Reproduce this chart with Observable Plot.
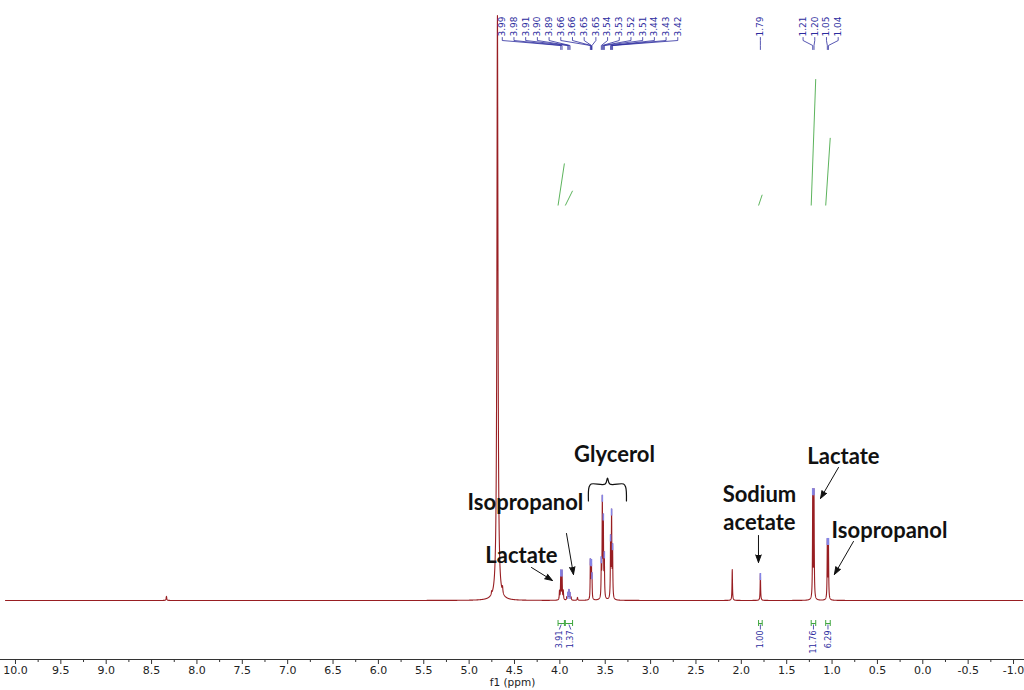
<!DOCTYPE html>
<html>
<head>
<meta charset="utf-8">
<script src="https://cdn.jsdelivr.net/npm/d3@7"></script>
<script src="https://cdn.jsdelivr.net/npm/@observablehq/plot@0.6"></script>
<style>
  body { margin: 0; background: #fff; }
  #chart svg { display: block; }
</style>
</head>
<body>
<div id="chart"></div>
<script>
// ---- 1H NMR spectrum: resonance lines (chemical shift in ppm, height in a.u. with water = 1000, half-width in ppm)
const lineShift  = [8.336, 4.752, 4.688, 4.632,
                    4.004, 3.990, 3.976, 3.962,
                    3.924, 3.912, 3.900, 3.888, 3.876, 3.806,
                    3.664, 3.656, 3.652, 3.646,
                    3.543, 3.532, 3.521, 3.510,
                    3.441, 3.430, 3.419,
                    2.100, 1.790,
                    1.213, 1.199, 1.052, 1.040];
const lineHeight = [7, 5, 1000, 10,
                    15, 49, 49, 15,
                    5, 12, 17, 12, 5, 5,
                    64, 48, 48, 36,
                    60, 165, 130, 70,
                    100, 143, 85,
                    53, 46,
                    183, 183, 100, 100];
const lineWidth  = [0.004, 0.003, 0.007, 0.004,
                    0.003, 0.003, 0.003, 0.003,
                    0.003, 0.003, 0.003, 0.003, 0.003, 0.004,
                    0.0025, 0.0025, 0.0025, 0.0025,
                    0.003, 0.003, 0.003, 0.003,
                    0.003, 0.003, 0.003,
                    0.003, 0.003,
                    0.003, 0.003, 0.003, 0.003];
// lines carrying a chemical-shift label above the spectrum
const linePicked = [false, false, false, false,
                    false, true, true, false,
                    false, true, true, true, false, false,
                    true, true, true, true,
                    true, true, true, true,
                    true, true, true,
                    false, true,
                    true, true, true, true];

// ---- integrated regions (ppm limits) and their integral values
const integralFrom  = [4.02, 3.94, 1.81, 1.23, 1.07];
const integralTo    = [3.95, 3.86, 1.77, 1.18, 1.02];
const integralValue = [3.91, 1.37, 1.00, 11.76, 6.29];

// ---- compound annotations (text anchor in ppm / intensity)
const annotationText  = ["Glycerol", "Isopropanol", "Lactate", "Sodium", "acetate", "Lactate", "Isopropanol"];
const annotationShift = [3.398, 4.379, 4.423, 1.800, 1.800, 0.874, 0.367];
const annotationLevel = [248, 166.5, 75.9, 180.2, 132.3, 245.1, 118.6];

// arrows from annotation to peak
const arrowShiftFrom = [3.927, 4.313, 1.811, 0.929, 0.764];
const arrowLevelFrom = [114.5, 56.4, 111.1, 227.4, 100.9];
const arrowShiftTo   = [3.850, 4.082, 1.811, 1.127, 0.974];
const arrowLevelTo   = [44.4, 34.2, 65.0, 174.4, 44.4];

// curly brace spanning the glycerol multiplets
const braceShift = [3.685, 3.678, 3.655, 3.500, 3.475, 3.450, 3.298, 3.275, 3.266];
const braceLevel = [170, 194, 199, 199, 209, 199, 199, 194, 170];

// axis ticks
const majorTicks = d3.range(-2, 21).map(i => i / 2);
const minorTicks = d3.range(-4, 41).filter(i => i % 2 !== 0).map(i => i / 4);

// ---- layout
const W = 1024, H = 690, MB = 31;
const xDomain = [10.165, -1.121];
const yDomain = [-100.9, 1025.6];
const xScale = Plot.scale({x: {domain: xDomain, range: [0, W]}});
const yScale = Plot.scale({y: {domain: yDomain, range: [H - MB, 0]}});
const Y = px => yScale.invert(px); // intensity at a given distance from the top

const RED = "#981e22", BLUE = "#2c2c9e", GREEN = "#3fa63f", TIP = "#8585e6";

// ---- spectrum as a sum of Lorentzian lines
const lines = lineShift.map((s, i) => ({s, h: lineHeight[i], w: lineWidth[i], picked: linePicked[i]}));
const intensityAt = ppm => d3.sum(lines, l => l.h / (1 + ((ppm - l.s) / l.w) ** 2));
const grid = d3.range(0, 11211).map(i => +(10.11 - i * 0.001).toFixed(3))
  .concat(lineShift).sort((a, b) => b - a);
const spectrum = grid.map(ppm => ({ppm, intensity: intensityAt(ppm)}));

// spread labels so they do not overlap (pixel positions, ascending)
function spread(xs, gap) {
  let clusters = xs.map(x => ({sum: x, n: 1}));
  let merged = true;
  while (merged) {
    merged = false;
    const out = [];
    for (const c of clusters) {
      const prev = out[out.length - 1];
      if (prev) {
        const prevEnd = prev.sum / prev.n + (prev.n - 1) / 2 * gap;
        const curStart = c.sum / c.n - (c.n - 1) / 2 * gap;
        if (curStart - prevEnd < gap) { prev.sum += c.sum; prev.n += c.n; merged = true; continue; }
      }
      out.push({...c});
    }
    clusters = out;
  }
  return clusters.flatMap(c => d3.range(c.n).map(i => c.sum / c.n + (i - (c.n - 1) / 2) * gap));
}

// chemical-shift labels
const picked = lines.filter(l => l.picked).sort((a, b) => b.s - a.s);
const pickedPx = spread(picked.map(l => xScale.apply(l.s)), 11.7);
const peakLabels = picked.map((l, i) => ({ppm: l.s, at: xScale.invert(pickedPx[i]), text: l.s.toFixed(2), top: intensityAt(l.s)}));
const connectors = peakLabels.flatMap((d, i) => [
  {i, x: d.at, y: Y(37)}, {i, x: d.at, y: Y(40)}, {i, x: d.ppm, y: Y(45)}, {i, x: d.ppm, y: Y(49)}
]);

// integrals
const integrals = integralValue.map((v, i) => ({
  from: integralFrom[i], to: integralTo[i], value: v, mid: (integralFrom[i] + integralTo[i]) / 2
}));
const intPx = spread(integrals.map(d => xScale.apply(d.mid)), 11.5);
integrals.forEach((d, i) => { d.at = xScale.invert(intPx[i]); });
const INT_BASE = 205, INT_PX = 10.75;

const annotations = annotationText.map((t, i) => ({text: t, x: annotationShift[i], y: annotationLevel[i]}));
const arrows = arrowShiftFrom.map((s, i) => ({x1: s, y1: arrowLevelFrom[i], x2: arrowShiftTo[i], y2: arrowLevelTo[i]}));
const brace = braceShift.map((s, i) => ({x: s, y: braceLevel[i]}));

const chart = Plot.plot({
  width: W,
  height: H,
  marginLeft: 0,
  marginRight: 0,
  marginTop: 0,
  marginBottom: MB,
  style: {fontFamily: "DejaVu Sans, Verdana, sans-serif", background: "white", color: "#222"},
  x: {domain: xDomain, label: null},
  y: {domain: yDomain, axis: null},
  marks: [
    // integral curves
    Plot.link(integrals, {
      x1: "from", x2: "to",
      y1: () => Y(INT_BASE), y2: d => Y(INT_BASE - d.value * INT_PX),
      stroke: GREEN, strokeWidth: 1, strokeOpacity: 0.85
    }),
    // spectrum
    Plot.line(spectrum, {x: "ppm", y: "intensity", stroke: RED, strokeWidth: 1.1}),
    // peak-pick markers at line tops
    Plot.ruleX(peakLabels, {x: "ppm", y1: d => d.top - 12, y2: "top", stroke: TIP, strokeWidth: 1.6}),
    // chemical-shift labels and their leaders
    Plot.line(connectors, {x: "x", y: "y", z: "i", stroke: BLUE, strokeWidth: 0.8}),
    Plot.text(peakLabels, {
      x: "at", y: () => Y(36), text: "text", rotate: -90, textAnchor: "start",
      fontSize: 9, fill: BLUE, ariaLabel: "peak labels"
    }),
    // integral brackets below the baseline
    Plot.link(integrals, {x1: "from", x2: "to", y1: () => Y(623), y2: () => Y(623), stroke: GREEN, strokeWidth: 1}),
    Plot.ruleX(integrals.flatMap(d => [d.from, d.to]), {y1: () => Y(620), y2: () => Y(626), stroke: GREEN, strokeWidth: 1}),
    Plot.link(integrals, {x1: "mid", y1: () => Y(624), x2: "at", y2: () => Y(629), stroke: BLUE, strokeWidth: 0.8}),
    Plot.text(integrals, {
      x: "at", y: () => Y(630), text: d => d.value.toFixed(2), rotate: -90, textAnchor: "end",
      fontSize: 8, fill: BLUE
    }),
    // annotations
    Plot.line(brace, {x: "x", y: "y", curve: "catmull-rom", stroke: "#111", strokeWidth: 1.2}),
    Plot.arrow(arrows, {
      x1: "x1", y1: "y1", x2: "x2", y2: "y2",
      stroke: "#111", fill: "#111", strokeWidth: 1, headLength: 12, headAngle: 40
    }),
    Plot.text(annotations, {
      x: "x", y: "y", text: "text", fontFamily: "Lato, sans-serif", fontWeight: "bold",
      fontSize: 22, fill: "#111"
    }),
    // x axis
    Plot.ruleY([yDomain[0]], {stroke: "#333", strokeWidth: 1}),
    Plot.axisX(majorTicks, {tickSize: 5, tickPadding: 2, tickFormat: d => d.toFixed(1), fontSize: 11, label: null, stroke: "#333"}),
    Plot.axisX(minorTicks, {tickSize: 3, tickFormat: () => "", label: null, stroke: "#333"}),
    Plot.text(["f1 (ppm)"], {frameAnchor: "bottom", dy: 26.5, fontSize: 10.5, fill: "#222"})
  ]
});

d3.select(chart).selectAll('g[aria-label="peak labels"] text').style("letter-spacing", "1.4px");
document.getElementById("chart").append(chart);
</script>
</body>
</html>
